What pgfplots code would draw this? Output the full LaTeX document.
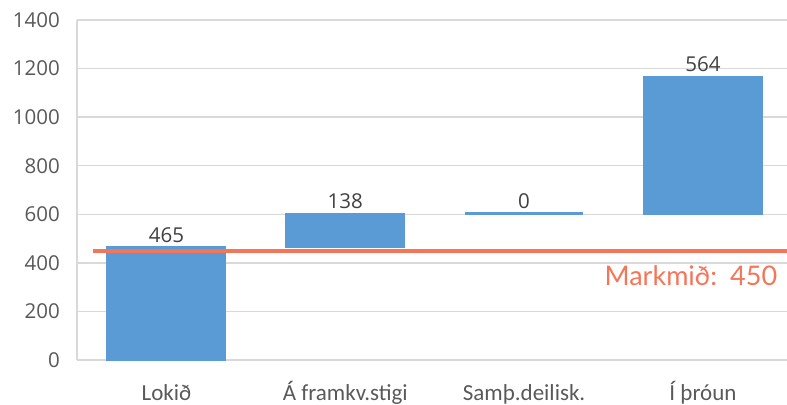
\documentclass[border=0pt]{standalone}
\usepackage{pgfplots}
\pgfplotsset{compat=1.18}
\usepackage{pgfplotstable}
\usepackage{fontspec}
\setmainfont{Carlito}
\newfontfamily\numfont{Open Sans}
\newfontfamily\goalfont{Lato}

\definecolor{barblue}{HTML}{5B9BD5}
\definecolor{goalred}{HTML}{F4765A}
\definecolor{gridgray}{HTML}{D9D9D9}
\definecolor{labelgray}{HTML}{595959}
\definecolor{valgray}{HTML}{404040}

% Waterfall steps: invisible base, visible increment, running total
\pgfplotstableread{
x base val top
0 0   465 465
1 465 138 603
2 603 0   603
3 603 564 1167
}\steps

% Zero-height step drawn as a flat segment
\pgfplotstableread{
x y
1.67 603
2.33 603
}\flatstep

% Target line
\pgfplotstableread{
x y
-0.41 450
3.47  450
}\goal

\pgfplotsset{
  commonframe/.style={
    scale only axis, width=710bp, height=340bp,
    at={(0,0)}, anchor=south west,
    xmin=-0.5, xmax=3.47, ymin=0, ymax=1400,
  }
}

\begin{document}
\begin{tikzpicture}
\begin{axis}[
  commonframe,
  ybar stacked, bar width=118bp,
  ytick={0,200,...,1400},
  xtick={0,1,2,3},
  xticklabels={Lokið, Á framkv.stigi, Samþ.deilisk., Í þróun},
  axis x line*=bottom, axis y line*=left,
  axis line style={gridgray, line width=1.3bp},
  ymajorgrids, grid style={gridgray, line width=1.3bp},
  major tick length=0pt,
  /pgf/number format/assume math mode=true,
  /pgf/number format/1000 sep={},
  yticklabel style={font=\numfont\fontsize{20.5bp}{24bp}\selectfont,
    text=labelgray, anchor=east, inner sep=0pt, xshift=-17bp},
  xticklabel style={font=\fontsize{23bp}{26bp}\selectfont,
    text=labelgray, anchor=base, inner sep=0pt, yshift=-40bp},
]
\addplot[draw=none, fill=none] table[x=x, y=base] {\steps};
\addplot[fill=barblue, draw=barblue, line width=2bp] table[x=x, y=val] {\steps};
\end{axis}

\begin{axis}[commonframe, hide axis, clip=false]
\addplot[barblue, line width=3bp, no marks] table[x=x, y=y] {\flatstep};
\addplot[goalred, line width=4bp, no marks] table[x=x, y=y] {\goal};
% value labels above each step
\addplot[only marks, mark=none, point meta=explicit symbolic,
  nodes near coords,
  every node near coord/.append style={font=\numfont\fontsize{20.5bp}{24bp}\selectfont,
    text=valgray, anchor=base, yshift=5bp, inner sep=0pt},
] table[x=x, y=top, meta=val] {\steps};
\node[anchor=base east, inner sep=0pt, text=goalred,
  font=\goalfont\fontsize{27bp}{31bp}\selectfont]
  at (axis cs:3.416,305) {Markmið: \kern4bp450};
\end{axis}

\pgfresetboundingbox
\path[use as bounding box] (-77bp,-45bp) rectangle (710bp,360bp);
\end{tikzpicture}
\end{document}
